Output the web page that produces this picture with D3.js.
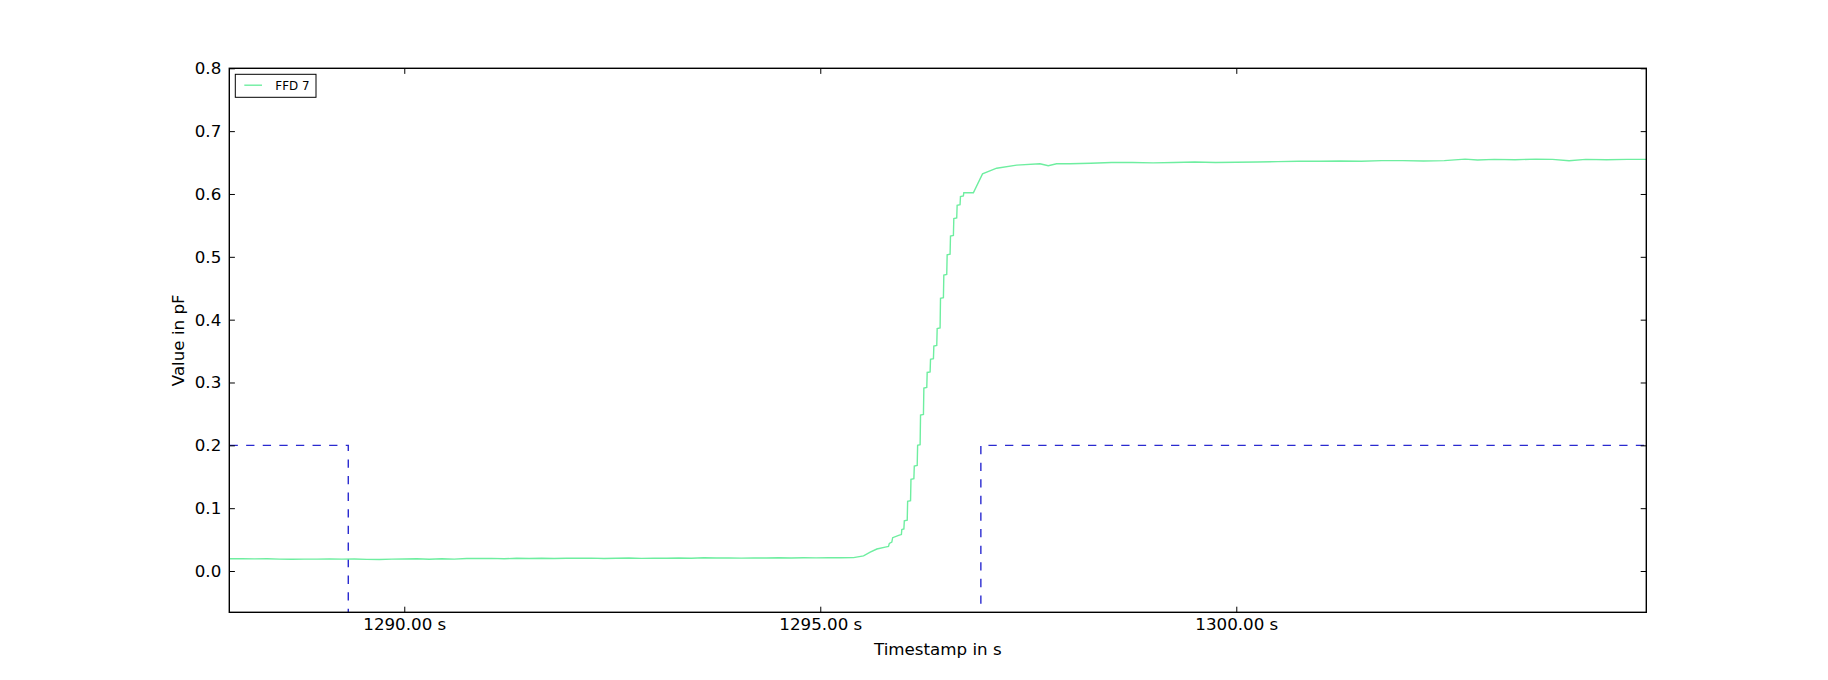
<!DOCTYPE html>
<html>
<head>
<meta charset="utf-8">
<script src="https://cdn.jsdelivr.net/npm/d3@7"></script>
<style>
  body { margin: 0; background: #fff; }
  svg { display: block; font-family: "DejaVu Sans", sans-serif; }
</style>
</head>
<body>
<div id="wrapper"></div>
<script>
// FFD 7 sensor trace: timestamps (s) and values (pF)
const ffdTime = [
  1287.90, 1288.05, 1288.20, 1288.35, 1288.50, 1288.65, 1288.80, 1288.95, 1289.10, 1289.25,
  1289.40, 1289.55, 1289.70, 1289.85, 1290.00, 1290.15, 1290.30, 1290.45, 1290.60, 1290.75,
  1290.90, 1291.05, 1291.20, 1291.35, 1291.50, 1291.65, 1291.80, 1291.95, 1292.10, 1292.25,
  1292.40, 1292.55, 1292.70, 1292.85, 1293.00, 1293.15, 1293.30, 1293.45, 1293.60, 1293.75,
  1293.90, 1294.05, 1294.20, 1294.35, 1294.50, 1294.65, 1294.80, 1294.95, 1295.10, 1295.25,
  1295.40, 1295.52, 1295.60, 1295.68, 1295.78, 1295.82, 1295.83, 1295.86, 1295.87, 1295.95,
  1295.975, 1295.98, 1296.005, 1296.01, 1296.045, 1296.05, 1296.085, 1296.09, 1296.125, 1296.13,
  1296.165, 1296.17, 1296.20, 1296.205, 1296.24, 1296.245, 1296.28, 1296.285, 1296.32, 1296.325,
  1296.36, 1296.365, 1296.40, 1296.405, 1296.44, 1296.445, 1296.48, 1296.485, 1296.52, 1296.525,
  1296.56, 1296.565, 1296.60, 1296.605, 1296.64, 1296.645, 1296.68, 1296.685, 1296.72, 1296.725,
  1296.84, 1296.95, 1297.12, 1297.36, 1297.64, 1297.74, 1297.84,
  1298.00, 1298.25, 1298.50, 1298.75, 1299.00, 1299.25, 1299.50, 1299.75, 1300.00, 1300.25,
  1300.50, 1300.75, 1301.00, 1301.25, 1301.50, 1301.75, 1302.00, 1302.25, 1302.50, 1302.75,
  1302.90, 1303.10, 1303.35, 1303.60, 1303.80, 1304.00, 1304.20, 1304.45, 1304.70, 1304.93
];
const ffdValue = [
  0.0195, 0.0195, 0.0193, 0.0194, 0.0190, 0.0188, 0.0190, 0.0189, 0.0192, 0.0190,
  0.0192, 0.0186, 0.0184, 0.0190, 0.0191, 0.0194, 0.0188, 0.0196, 0.0189, 0.0198,
  0.0198, 0.0201, 0.0195, 0.0202, 0.0199, 0.0203, 0.0198, 0.0204, 0.0202, 0.0205,
  0.0199, 0.0204, 0.0206, 0.0201, 0.0205, 0.0204, 0.0207, 0.0204, 0.0212, 0.0206,
  0.0208, 0.0205, 0.0209, 0.0206, 0.0210, 0.0207, 0.0211, 0.0209, 0.0210, 0.0211,
  0.0213, 0.024, 0.030, 0.035, 0.038, 0.039, 0.044, 0.046, 0.053, 0.057,
  0.058, 0.066, 0.067, 0.080, 0.081, 0.111, 0.112, 0.146, 0.147, 0.167,
  0.168, 0.200, 0.201, 0.248, 0.249, 0.291, 0.292, 0.316, 0.317, 0.337,
  0.338, 0.358, 0.359, 0.386, 0.387, 0.434, 0.435, 0.471, 0.472, 0.503,
  0.504, 0.533, 0.534, 0.561, 0.562, 0.582, 0.583, 0.596, 0.597, 0.602,
  0.602, 0.632, 0.641, 0.646, 0.648, 0.645, 0.648,
  0.648, 0.649, 0.650, 0.650, 0.6495, 0.650, 0.651, 0.650, 0.6505, 0.651,
  0.6515, 0.652, 0.652, 0.6525, 0.652, 0.653, 0.653, 0.6525, 0.653, 0.6555,
  0.654, 0.655, 0.6545, 0.6555, 0.655, 0.653, 0.655, 0.6545, 0.655, 0.655
];

// reference signal (dashed)
const refTime = [1287.90, 1289.327, 1289.327, 1296.93, 1296.93, 1304.93];
const refValue = [0.2, 0.2, -0.2, -0.2, 0.2, 0.2];

const xTicks = [1290, 1295, 1300];
const yTicks = [0.0, 0.1, 0.2, 0.3, 0.4, 0.5, 0.6, 0.7, 0.8];
const xDomain = [1287.897, 1304.928];
const yDomain = [-0.0657, 0.8];

let dimension = {
  width: 1828,
  height: 680,
  margin: { top: 68.3, right: 181.7, bottom: 67.7, left: 229.3 },
};
dimension.boundedWidth = dimension.width - dimension.margin.left - dimension.margin.right;
dimension.boundedHeight = dimension.height - dimension.margin.top - dimension.margin.bottom;

const wrapper = d3.select("#wrapper")
  .append("svg")
  .attr("width", dimension.width)
  .attr("height", dimension.height);

wrapper.append("rect")
  .attr("width", dimension.width)
  .attr("height", dimension.height)
  .attr("fill", "#fff");

const bounds = wrapper.append("g")
  .attr("transform", `translate(${dimension.margin.left},${dimension.margin.top})`);

bounds.append("clipPath").attr("id", "plot-clip")
  .append("rect")
  .attr("width", dimension.boundedWidth)
  .attr("height", dimension.boundedHeight);

const xScaler = d3.scaleLinear().domain(xDomain).range([0, dimension.boundedWidth]);
const yScaler = d3.scaleLinear().domain(yDomain).range([dimension.boundedHeight, 0]);

const ffdData = ffdTime.map((t, i) => ({ t, v: ffdValue[i] }));
const refData = refTime.map((t, i) => ({ t, v: refValue[i] }));

const lineGenerator = d3.line()
  .x(d => xScaler(d.t))
  .y(d => yScaler(d.v));

const lines = bounds.append("g").attr("clip-path", "url(#plot-clip)");

lines.append("path")
  .attr("fill", "none")
  .attr("stroke", "#2a2ad0")
  .attr("stroke-width", 1.4)
  .attr("stroke-dasharray", "8.3,8.3")
  .attr("d", lineGenerator(refData));

lines.append("path")
  .attr("fill", "none")
  .attr("stroke", "#6eeea0")
  .attr("stroke-width", 1.4)
  .attr("stroke-linejoin", "miter")
  .attr("d", lineGenerator(ffdData));

// axes: inward ticks on all four sides (classic style)
const tickLen = 5.6;
const axisFont = "16.7px";

const xAxis = bounds.append("g")
  .attr("transform", `translate(0,${dimension.boundedHeight})`)
  .call(d3.axisBottom(xScaler).tickValues(xTicks).tickSizeInner(-tickLen).tickSizeOuter(0)
    .tickPadding(5.8).tickFormat(d => d3.format(".2f")(d) + " s"));
const xAxisTop = bounds.append("g")
  .call(d3.axisTop(xScaler).tickValues(xTicks).tickSizeInner(-tickLen).tickSizeOuter(0).tickFormat(""));
const yAxis = bounds.append("g")
  .call(d3.axisLeft(yScaler).tickValues(yTicks).tickSizeInner(-tickLen).tickSizeOuter(0)
    .tickPadding(8).tickFormat(d3.format(".1f")));
const yAxisRight = bounds.append("g")
  .attr("transform", `translate(${dimension.boundedWidth},0)`)
  .call(d3.axisRight(yScaler).tickValues(yTicks).tickSizeInner(-tickLen).tickSizeOuter(0).tickFormat(""));

[xAxis, xAxisTop, yAxis, yAxisRight].forEach(ax => {
  ax.select(".domain").remove();
  ax.selectAll(".tick line").attr("stroke", "#000").attr("stroke-width", 1);
  ax.selectAll("text")
    .attr("fill", "#000")
    .style("font-family", "'DejaVu Sans', sans-serif")
    .style("font-size", axisFont);
});

// frame
bounds.append("rect")
  .attr("width", dimension.boundedWidth)
  .attr("height", dimension.boundedHeight)
  .attr("fill", "none")
  .attr("stroke", "#000")
  .attr("stroke-width", 1.4);

// axis labels
wrapper.append("text")
  .attr("x", dimension.margin.left + dimension.boundedWidth / 2)
  .attr("y", 655)
  .attr("text-anchor", "middle")
  .style("font-size", axisFont)
  .text("Timestamp in s");

wrapper.append("text")
  .attr("transform", `translate(184,${dimension.margin.top + dimension.boundedHeight / 2}) rotate(-90)`)
  .attr("text-anchor", "middle")
  .style("font-size", axisFont)
  .text("Value in pF");

// legend
const legend = wrapper.append("g");
legend.append("rect")
  .attr("x", 235.3).attr("y", 74.3)
  .attr("width", 80.7).attr("height", 23)
  .attr("fill", "#fff")
  .attr("stroke", "#000")
  .attr("stroke-width", 1);
legend.append("line")
  .attr("x1", 244.3).attr("x2", 262)
  .attr("y1", 85.2).attr("y2", 85.2)
  .attr("stroke", "#6eeea0")
  .attr("stroke-width", 1.4);
legend.append("text")
  .attr("x", 275.3).attr("y", 89.6)
  .style("font-size", "11.9px")
  .text("FFD 7");
</script>
</body>
</html>
